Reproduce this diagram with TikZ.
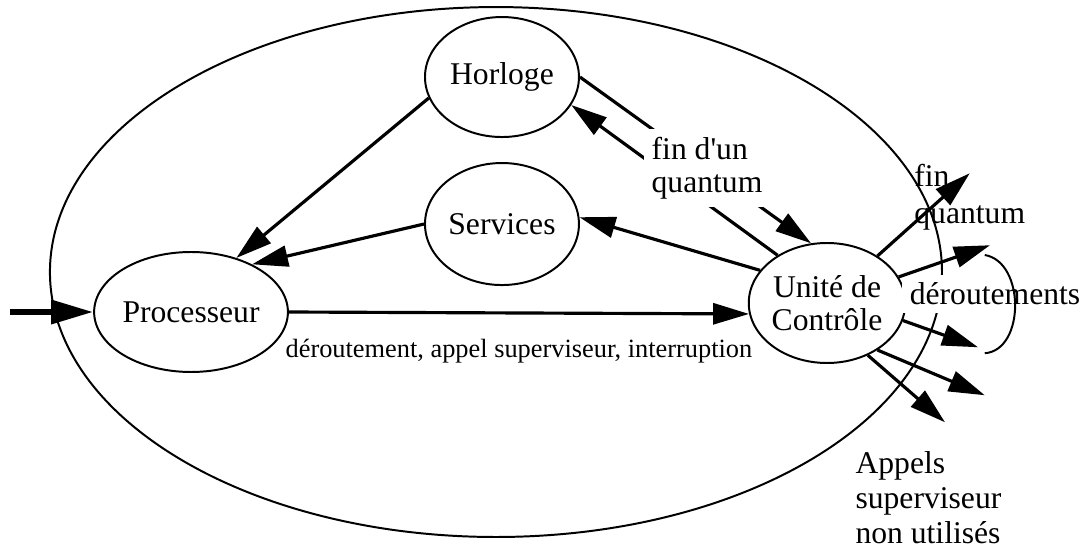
\documentclass[tikz,border=0pt]{standalone}
\usepackage{fontspec}
\setmainfont{Liberation Serif}
\usetikzlibrary{shapes.geometric,arrows.meta,positioning}

\tikzset{
  pointe/.style={-{Triangle[length=4.8mm,width=2.8mm]}, line width=1.2pt},
  petit/.style={font=\fontsize{10}{12}\selectfont},
}

\begin{document}
\begin{tikzpicture}[font=\fontsize{12}{12.5}\selectfont]
        \useasboundingbox (0,0) rectangle (14.48,-7.293);

        % le systeme
        \draw[line width=.75pt] (6.613,-3.627) ellipse [x radius=5.947, y radius=3.533];

        \begin{scope}[every node/.style={ellipse, draw, line width=.75pt, inner sep=0pt, align=center}]
          \node[minimum width=2.053cm, minimum height=1.6cm]  (horloge)  at (6.693,-1.027) {Horloge};
          \node[minimum width=2.053cm, minimum height=1.627cm] (services) at (6.693,-2.987) {Services};
          \node[minimum width=1.973cm, minimum height=1.6cm]  (proc)     at (2.547,-4.16)  {Processeur};
          \node[minimum width=2cm, minimum height=1.6cm]      (unite)    at (11.027,-4.04) {Unité de\\Contrôle};
        \end{scope}

        \node[fill=white, inner sep=3pt] (derout) at (13.267,-3.92) {déroutements};

        \coordinate (entree) at (0.133,-4.16);
        \coordinate (finq)   at (12.93,-2.31);
        \coordinate (der1)   at (13.2,-3.27);
        \coordinate (der2)   at (13.04,-4.63);
        \coordinate (app1)   at (13.13,-5.27);
        \coordinate (app2)   at (12.6,-5.63);

        \begin{scope}[every edge/.style={draw, pointe}]
          \path (entree) edge[line width=2.2pt, -{Triangle[length=5.6mm,width=3.1mm]}] (proc.west);
          \path (horloge.196) edge (proc.50);
          \path (services.west) edge (proc.38);
          \path (proc.east) edge node[below=6pt, petit] (trap) {déroutement, appel superviseur, interruption} (unite.188);
          \path (unite.154) edge (services.5);
          \path (horloge.east) edge (unite.105);
          \path (unite.136) edge (horloge.-22);
        \end{scope}

        \node[fill=white, align=left, inner sep=3pt] (quantum) at (9.427,-2.24) {fin d\textquotesingle un\\quantum};

        \begin{scope}[every edge/.style={draw, pointe}]
          \path (unite.43)  edge (finq);
          \path (unite.20)  edge (der1);
          \path (unite.-13) edge (der2);
          \path (unite.-43) edge (app1);
          \path (unite.-52) edge (app2);
        \end{scope}

        % accolade des deroutements
        \draw[line width=.75pt] (13.13,-3.4) .. controls (13.67,-3.49) and (13.67,-4.67) .. (13.13,-4.71);

        \node[align=left, inner sep=0pt, font=\fontsize{12}{14}\selectfont] (finquant) at (12.93,-2.63) {fin\\quantum};
        \node[align=left, inner sep=0pt, anchor=north west, font=\fontsize{12}{13.3}\selectfont] (appels) at (11.4,-6.013) {Appels\\superviseur\\non utilisés};

      \end{tikzpicture}
\end{document}
